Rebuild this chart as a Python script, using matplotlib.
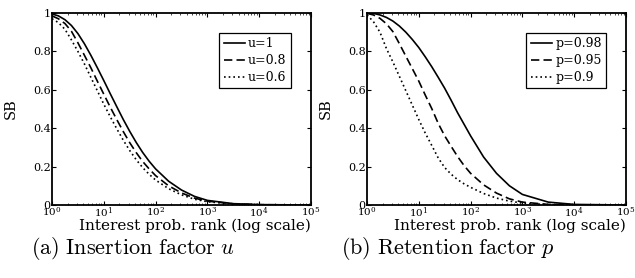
import math
import matplotlib
matplotlib.use('Agg')
import matplotlib.pyplot as plt
import matplotlib.ticker as mticker

# --- dane ---
rank = [1, 1.33, 1.78, 2.37, 3.16, 4.22, 5.62, 7.5, 10, 13.3, 17.8, 23.7,
        31.6, 42.2, 56.2, 75, 100, 178, 316, 562, 1000, 3162, 10000, 100000]

# (a) Insertion factor u
sb_u1 = [0.995, 0.985, 0.965, 0.935, 0.893, 0.84, 0.78, 0.715, 0.648, 0.58,
         0.512, 0.446, 0.384, 0.326, 0.274, 0.228, 0.188, 0.124, 0.078, 0.045,
         0.024, 0.007, 0.002, 0.0]
sb_u08 = [0.985, 0.97, 0.945, 0.905, 0.845, 0.78, 0.715, 0.645, 0.577, 0.51,
          0.445, 0.383, 0.325, 0.273, 0.227, 0.188, 0.153, 0.1, 0.063, 0.036,
          0.02, 0.006, 0.0015, 0.0]
sb_u06 = [0.97, 0.95, 0.915, 0.86, 0.8, 0.735, 0.665, 0.595, 0.525, 0.46,
          0.397, 0.338, 0.284, 0.236, 0.195, 0.16, 0.13, 0.085, 0.053, 0.03,
          0.017, 0.005, 0.001, 0.0]

# (b) Retention factor p
sb_p098 = [1.0, 0.998, 0.99, 0.977, 0.958, 0.932, 0.9, 0.862, 0.82, 0.772,
           0.72, 0.665, 0.608, 0.545, 0.48, 0.42, 0.36, 0.25, 0.165, 0.1,
           0.055, 0.015, 0.003, 0.0]
sb_p095 = [0.998, 0.99, 0.972, 0.944, 0.903, 0.84, 0.775, 0.71, 0.645, 0.573,
           0.502, 0.425, 0.36, 0.305, 0.252, 0.205, 0.165, 0.105, 0.062, 0.032,
           0.015, 0.003, 0.0005, 0.0]
sb_p09 = [0.99, 0.955, 0.9, 0.815, 0.745, 0.67, 0.595, 0.52, 0.445, 0.375,
          0.31, 0.245, 0.195, 0.16, 0.132, 0.11, 0.092, 0.06, 0.036, 0.02,
          0.01, 0.0015, 0.0, 0.0]

labels_u = ['u=1', 'u=0.8', 'u=0.6']
labels_p = ['p=0.98', 'p=0.95', 'p=0.9']
captions = ['(a) Insertion factor', '(b) Retention factor']
caption_vars = ['u', 'p']

plt.rcParams['font.family'] = 'DejaVu Serif'

fig = plt.figure(figsize=(6.35, 2.78), dpi=100)

W, H = 635.0, 278.0
panele = [
    (52, [sb_u1, sb_u08, sb_u06], labels_u),
    (367, [sb_p098, sb_p095, sb_p09], labels_p),
]
style = ['-', (0, (5, 2.5)), (0, (1, 1.8))]

for i, (x0, serie, etykiety) in enumerate(panele):
    ax = fig.add_axes([x0 / W, (H - 205) / H, 259 / W, 192 / H])
    for y, ls, lab in zip(serie, style, etykiety):
        ax.plot(rank, y, color='black', linestyle=ls, linewidth=1.2, label=lab)

    ax.set_xscale('log')
    ax.set_xlim(1, 1e5)
    ax.set_ylim(0, 1)
    ax.set_yticks([0, 0.2, 0.4, 0.6, 0.8, 1])
    ax.yaxis.set_major_formatter(mticker.FuncFormatter(lambda v, p: '%g' % v))
    ax.xaxis.set_major_locator(mticker.LogLocator(base=10, numticks=10))
    ax.xaxis.set_major_formatter(mticker.FuncFormatter(
        lambda v, p: r'$\mathregular{10^{%d}}$' % round(math.log10(v))))
    ax.xaxis.set_minor_locator(mticker.LogLocator(base=10, subs=range(2, 10), numticks=10))
    ax.xaxis.set_minor_formatter(mticker.NullFormatter())

    ax.tick_params(which='both', direction='in', top=True, right=True)
    ax.tick_params(which='major', length=3, width=0.8, pad=1.5, labelsize=8)
    ax.tick_params(axis='x', labelsize=7.5, pad=0.5)
    ax.tick_params(axis='y', pad=1)
    ax.tick_params(which='minor', length=1.5, width=0.5)
    for s in ax.spines.values():
        s.set_linewidth(1.3)

    ax.set_ylabel('SB', fontsize=10.5)
    ax.yaxis.set_label_coords(-0.132, 0.5)
    ax.set_xlabel('Interest prob. rank (log scale)', fontsize=11)
    ax.xaxis.set_label_coords(0.55, -0.072)

    leg = ax.legend(loc='upper right', fontsize=9, handlelength=1.7,
                    handletextpad=0.25, borderpad=0.35, labelspacing=0.3,
                    fancybox=False, framealpha=1, edgecolor='black',
                    borderaxespad=1.6)
    leg.get_frame().set_linewidth(0.9)

    cx = (133 + 315 * i) / W
    fig.text(cx, 1 - 249 / H, r'$\mathrm{%s}\ %s$' % (captions[i].replace(' ', r'\ '), caption_vars[i]),
             ha='center', va='center', fontsize=16, math_fontfamily='cm')

fig.savefig('out.png', dpi=100)
